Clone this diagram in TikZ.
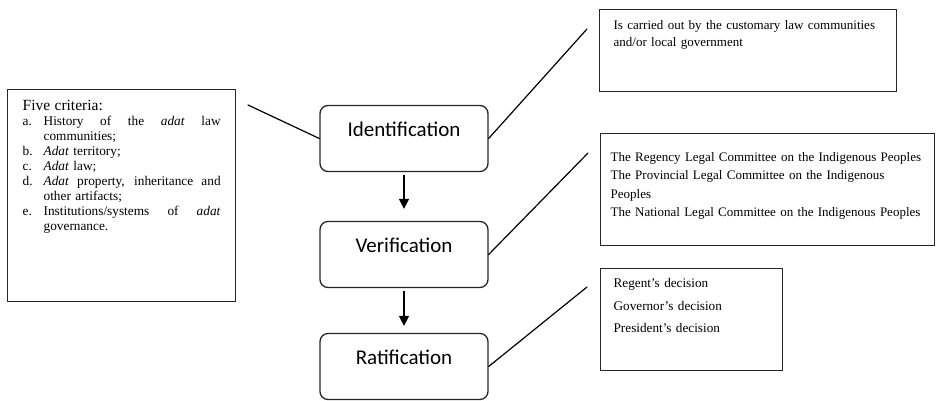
\documentclass[tikz,border=0pt]{standalone}
\usepackage{fontspec}
\setmainfont{Liberation Serif}
\newfontfamily\stagefont{Carlito}
\usepackage{tikz}
\usetikzlibrary{arrows.meta}
\definecolor{ink}{HTML}{000000}
\definecolor{edge}{HTML}{262626}
\newcommand{\critem}[2]{\makebox[21pt][l]{#1}#2}
\newcommand{\critline}[1]{{\spaceskip=.25em plus 10em\makebox[177pt][s]{#1}}}
\tikzset{
  stage/.style={draw=edge, line width=1.3pt, rounded corners=8pt, minimum width=168pt, minimum height=66pt,
    inner sep=0pt, text height=16pt, text depth=21pt, font=\stagefont\fontsize{21}{25}\selectfont},
  note/.style={draw=edge, line width=1.3pt, anchor=north west, inner ysep=0pt, align=left},
  flow/.style={draw=ink, line width=1.5pt, -{Triangle[length=10pt,width=10pt]}, shorten <=3pt, shorten >=12pt},
  tie/.style={draw=ink, line width=1.2pt, line cap=round},
}
\begin{document}
\begin{tikzpicture}[x=1pt, y=-1pt]
  \useasboundingbox (0,0) rectangle (936,400);
  \def\cx{404}
  \coordinate (I) at (\cx,138.5);
  \coordinate (V) at (\cx,254.5);
  \coordinate (R) at (\cx,366.5);

  \node[stage] (ident) at (I) {Identification};
  \node[stage] (verif) at (V) {Verification};
  \node[stage] (ratif) at (R) {Ratification};

  \draw[flow] (ident) -- (verif);
  \draw[flow, shorten >=7pt] (verif) -- (ratif);

  \node[note, text width=198pt, inner xsep=15pt, text height=21pt, text depth=191pt,
    font=\fontsize{13.3}{15}\selectfont] (crit) at (7,89) {%
    {\fontsize{15.5}{15}\selectfont Five criteria:}\\
    \critem{a.}{\critline{History of the \textit{adat} law}}\\
    \critem{}{communities;}\\
    \critem{b.}{\textit{Adat} territory;}\\
    \critem{c.}{\textit{Adat} law;}\\
    \critem{d.}{\critline{\textit{Adat} property, inheritance and}}\\
    \critem{}{other artifacts;}\\
    \critem{e.}{\critline{Institutions/systems of \textit{adat}}}\\
    \critem{}{governance.}};

  \node[note, text width=269pt, inner xsep=14pt, text height=20pt, text depth=62pt,
    font=\fontsize{13}{17}\selectfont] (cond) at (599,9) {%
    Is carried out by the customary law communities\\
    and/or local government};
  \node[note, text width=314pt, inner xsep=10pt, text height=28pt, text depth=84pt,
    font=\fontsize{13}{18.3}\selectfont] (comm) at (600,133) {%
    The Regency Legal Committee on the Indigenous Peoples\\
    The Provincial Legal Committee on the Indigenous\\
    Peoples\\
    The National Legal Committee on the Indigenous Peoples};
  \node[note, text width=156pt, inner xsep=13pt, text height=19pt, text depth=83pt,
    font=\fontsize{13.2}{22.5}\selectfont] (dec) at (600,268) {%
    Regent's decision\\
    Governor's decision\\
    President's decision};

  \coordinate (critTip) at (248,105);
  \coordinate (condTip) at (587,29);
  \coordinate (commTip) at (588,153);
  \coordinate (decTip) at (587,287);
  \draw[tie] (critTip) -- (ident.west);
  \draw[tie] (ident.east) -- (condTip);
  \draw[tie] (verif.east) -- (commTip);
  \draw[tie] (ratif.east) -- (decTip);
\end{tikzpicture}
\end{document}
